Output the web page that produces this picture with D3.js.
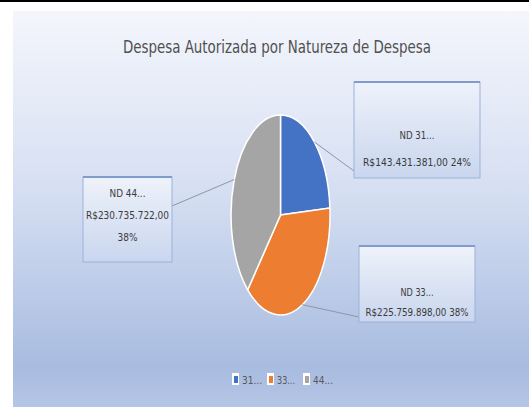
<!DOCTYPE html>
<html>
<head>
<meta charset="utf-8">
<script src="https://cdn.jsdelivr.net/npm/d3@7/dist/d3.min.js"></script>
<style>
  html, body { margin: 0; padding: 0; background: #ffffff; }
  svg { display: block; }
  text { font-family: "Liberation Sans Narrow", "DejaVu Sans Condensed", "Liberation Sans", sans-serif; }
</style>
</head>
<body>
<svg id="chart" width="529" height="407"></svg>
<script>
// Authorized expenditure by nature of expense (R$)
const categories = ["ND 31...", "ND 33...", "ND 44..."];
const legendLabels = ["31...", "33...", "44..."];
const values = [143431381.00, 225759898.00, 230735722.00];
const colors = ["#4472c4", "#ed7d31", "#a5a5a5"];
const title = "Despesa Autorizada por Natureza de Despesa";

const W = 529, H = 407;
const svg = d3.select("#chart");

// Brazilian currency formatting
const br = d3.formatLocale({ decimal: ",", thousands: ".", grouping: [3], currency: ["R$", ""] });
const fmtMoney = br.format("$,.2f");
const total = d3.sum(values);
const fmtPct = v => Math.round(v / total * 100) + "%";

const defs = svg.append("defs");
const bg = defs.append("linearGradient").attr("id", "bg").attr("x1", 0).attr("y1", 0).attr("x2", 0).attr("y2", 1);
bg.append("stop").attr("offset", "0").attr("stop-color", "#f4f6fc");
bg.append("stop").attr("offset", "0.45").attr("stop-color", "#d6dff2");
bg.append("stop").attr("offset", "0.9").attr("stop-color", "#a8bce0");
bg.append("stop").attr("offset", "1").attr("stop-color", "#b5c5e5");

const box = defs.append("linearGradient").attr("id", "box").attr("x1", 0).attr("y1", 0).attr("x2", 0).attr("y2", 1);
box.append("stop").attr("offset", "0").attr("stop-color", "#eef2fa");
box.append("stop").attr("offset", "1").attr("stop-color", "#c9d6ee");

// top rule and chart area
svg.append("rect").attr("x", 0).attr("y", 0).attr("width", W).attr("height", 2).attr("fill", "#000");
svg.append("rect").attr("x", 13).attr("y", 11).attr("width", W - 13).attr("height", H - 11).attr("fill", "url(#bg)");

// title
svg.append("text")
  .attr("x", 277).attr("y", 53)
  .attr("text-anchor", "middle")
  .attr("font-size", 17)
  .attr("fill", "#505050")
  .attr("textLength", 308).attr("lengthAdjust", "spacingAndGlyphs")
  .text(title);

// elliptical pie
const cx = 280.5, cy = 215, rx = 49.5, ry = 100;
const pie = d3.pie().sort(null).value(d => d)(values);
const arc = d3.arc().innerRadius(0).outerRadius(1);

const pieG = svg.append("g").attr("transform", `translate(${cx},${cy}) scale(${rx},${ry})`);
pieG.selectAll("path")
  .data(pie)
  .join("path")
  .attr("d", arc)
  .attr("fill", (d, i) => colors[i])
  .attr("stroke", "#ffffff")
  .attr("stroke-width", 1.5)
  .attr("vector-effect", "non-scaling-stroke");

// data label callouts
const labelBoxes = [
  { x: 354, y: 82, w: 126, h: 96, lines: [categories[0], fmtMoney(values[0]) + " " + fmtPct(values[0])], base: [139, 166], lens: [35, 108], anchor: [354, 171] },
  { x: 359, y: 246, w: 116, h: 76, lines: [categories[1], fmtMoney(values[1]) + " " + fmtPct(values[1])], base: [296, 316], lens: [33, 103], anchor: [359, 317] },
  { x: 83, y: 177, w: 89, h: 85, lines: [categories[2], fmtMoney(values[2]), fmtPct(values[2])], base: [197, 219, 241], lens: [36, 83, 20], anchor: [172, 206] }
];

const edgePoint = d => {
  const a = (d.startAngle + d.endAngle) / 2;
  return [cx + rx * Math.sin(a), cy - ry * Math.cos(a)];
};

labelBoxes.forEach((b, i) => {
  const p = edgePoint(pie[i]);
  svg.append("line")
    .attr("x1", p[0]).attr("y1", p[1])
    .attr("x2", b.anchor[0]).attr("y2", b.anchor[1])
    .attr("stroke", "#8c96a8").attr("stroke-width", 1);
});

labelBoxes.forEach(b => {
  const g = svg.append("g");
  g.append("rect")
    .attr("x", b.x).attr("y", b.y).attr("width", b.w).attr("height", b.h)
    .attr("fill", "url(#box)")
    .attr("stroke", "#9cb1da").attr("stroke-width", 1);
  g.append("line")
    .attr("x1", b.x).attr("x2", b.x + b.w).attr("y1", b.y).attr("y2", b.y)
    .attr("stroke", "#7f9ccc").attr("stroke-width", 2);
  b.lines.forEach((t, j) => {
    g.append("text")
      .attr("x", b.x + b.w / 2).attr("y", b.base[j])
      .attr("text-anchor", "middle")
      .attr("font-size", 11)
      .attr("fill", "#3a3a3a")
      .attr("textLength", b.lens[j]).attr("lengthAdjust", "spacingAndGlyphs")
      .text(t);
  });
});

// legend
const legendX = [233, 268, 304];
const legendLens = [20, 18, 20];
legendLabels.forEach((t, i) => {
  const g = svg.append("g").attr("transform", `translate(${legendX[i]},373)`);
  g.append("rect").attr("x", -1).attr("y", 0).attr("width", 7).attr("height", 12).attr("fill", "#ffffff");
  g.append("rect").attr("x", 1).attr("y", 3).attr("width", 4).attr("height", 7).attr("fill", colors[i]);
  g.append("text")
    .attr("x", 9).attr("y", 11)
    .attr("font-size", 11)
    .attr("fill", "#595959")
    .attr("textLength", legendLens[i]).attr("lengthAdjust", "spacingAndGlyphs")
    .text(t);
});
</script>
</body>
</html>
